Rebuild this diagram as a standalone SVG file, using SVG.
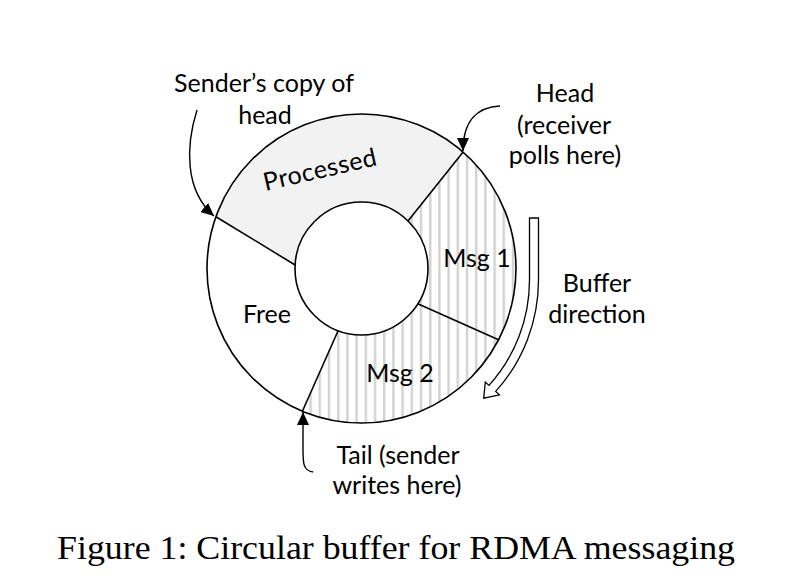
<svg xmlns="http://www.w3.org/2000/svg" width="792" height="588" viewBox="0 0 792 588">
<style>
.lbl{font-family:Lato,"Open Sans","DejaVu Sans",sans-serif;font-size:25px;fill:#000;text-anchor:middle}
.cap{font-family:"Liberation Serif","Times New Roman",serif;font-size:34px;fill:#000}
.edge{fill:none;stroke:#000;stroke-width:1.6}
.conn{fill:none;stroke:#000;stroke-width:1.4}
</style>
<defs>
<pattern id="stripes" patternUnits="userSpaceOnUse" x="429" y="0" width="9.2" height="20">
<rect width="9.2" height="20" fill="#fff"/>
<rect x="0" y="0" width="2.4" height="20" fill="#d2d2d2"/>
</pattern>
<marker id="tri" markerUnits="userSpaceOnUse" markerWidth="13" markerHeight="12" refX="13" refY="6" orient="auto" viewBox="0 0 13 12">
<path d="M0,0 L13,6 L0,12 Z" fill="#000"/>
</marker>
</defs>
<rect width="792" height="588" fill="#fff"/>

<g id="ring">
<g id="processed">
<path d="M215.9 216.7 A154.5 154.5 0 0 1 463.1 152.1 L408 221 A66.5 66.5 0 0 0 295.1 265 Z" fill="#f2f2f2"/>
</g>
<g id="msg1">
<path d="M463.1 152.1 A154.5 154.5 0 0 1 498.5 339.8 L417.8 303.8 A66.5 66.5 0 0 0 408 221 Z" fill="url(#stripes)"/>
</g>
<g id="msg2">
<path d="M498.5 339.8 A154.5 154.5 0 0 1 302.4 411.2 L338.1 330.8 A66.5 66.5 0 0 0 417.8 303.8 Z" fill="url(#stripes)"/>
</g>
<circle class="edge" cx="361.5" cy="268.5" r="154.5"/>
<circle cx="361.5" cy="268.5" r="66.5" fill="#fff" stroke="#000" stroke-width="1.6"/>
<line class="edge" x1="463.1" y1="152.1" x2="408" y2="221"/>
<line class="edge" x1="215.9" y1="216.7" x2="295.1" y2="265"/>
<line class="edge" x1="498.5" y1="339.8" x2="417.8" y2="303.8"/>
<line class="edge" x1="302.4" y1="411.2" x2="338.1" y2="330.8"/>
<text class="lbl" x="322" y="178" transform="rotate(-13 322 178)" letter-spacing="0.5">Processed</text>
<text class="lbl" x="477" y="267">Msg 1</text>
<text class="lbl" x="267" y="323">Free</text>
<text class="lbl" x="400" y="382">Msg 2</text>
</g>

<g id="connectors">
<path class="conn" d="M197 110 C186 145 184 190 214 216" marker-end="url(#tri)"/>
<path class="conn" d="M500 106 C478 107 463 120 463 151" marker-end="url(#tri)"/>
<path class="conn" d="M313 472 C303 471 303 462 303 450 L303 412" marker-end="url(#tri)"/>
<path id="buffer-arrow" d="M529.5 218 L538.5 218 L538.5 280 A166.5 166.5 0 0 1 495.7 391.4 L499.4 394.8 L483.7 398.1 L485.3 382 L489 385.4 A157.5 157.5 0 0 0 529.5 280 Z" fill="#fff" stroke="#000" stroke-width="1.3" stroke-linejoin="miter"/>
</g>

<g id="label-sender">
<text class="lbl" x="264" y="92">Sender’s copy of</text>
<text class="lbl" x="265" y="124">head</text>
</g>
<g id="label-head">
<text class="lbl" x="565" y="102">Head</text>
<text class="lbl" x="564" y="134">(receiver</text>
<text class="lbl" x="565" y="164">polls here)</text>
</g>
<g id="label-buffer">
<text class="lbl" x="597" y="292">Buffer</text>
<text class="lbl" x="597" y="323">direction</text>
</g>
<g id="label-tail">
<text class="lbl" x="398" y="464">Tail (sender</text>
<text class="lbl" x="397" y="494">writes here)</text>
</g>
<g id="caption">
<text class="cap" x="57" y="559" textLength="678" lengthAdjust="spacingAndGlyphs">Figure 1: Circular buffer for RDMA messaging</text>
</g>
</svg>
